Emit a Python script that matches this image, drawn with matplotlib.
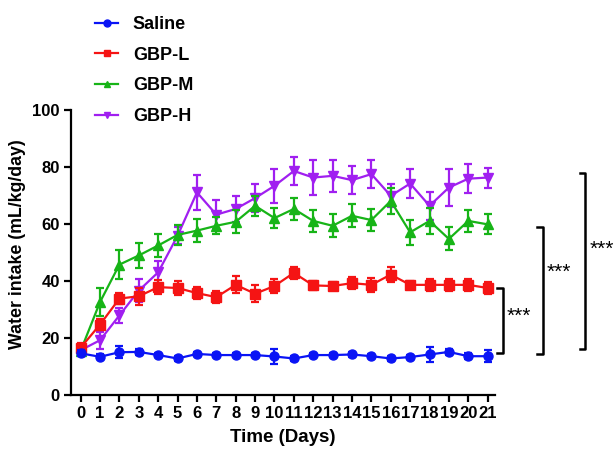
import matplotlib
matplotlib.use('Agg')
import matplotlib.pyplot as plt
from matplotlib.lines import Line2D

plt.rcParams['font.family'] = ['Liberation Sans', 'DejaVu Sans']
plt.rcParams['font.weight'] = 'bold'

days = list(range(22))

saline = [14.6, 13.4, 15.0, 15.1, 14.0, 12.8, 14.4, 14.0, 14.0, 14.0, 13.5,
          12.8, 14.0, 14.0, 14.2, 13.6, 12.8, 13.3, 14.2, 15.1, 13.6, 13.6]
saline_err = [1.0, 0.8, 2.0, 1.0, 0.8, 0.8, 0.8, 0.8, 0.8, 0.8, 2.5,
              0.8, 0.8, 0.8, 0.8, 0.8, 0.8, 0.8, 2.5, 1.0, 1.0, 2.0]

gbp_l = [16.6, 24.7, 33.8, 34.6, 37.8, 37.5, 35.7, 34.3, 38.6, 35.5, 38.2,
         42.8, 38.4, 38.2, 39.2, 38.6, 42.2, 38.6, 38.6, 38.6, 38.6, 37.5]
gbp_l_err = [1.5, 2.0, 2.0, 3.0, 2.5, 2.5, 2.0, 2.0, 3.0, 3.0, 2.5,
             2.0, 1.5, 1.5, 2.0, 2.5, 2.5, 1.5, 2.0, 2.0, 2.0, 2.0]

gbp_m = [15.5, 32.6, 45.7, 48.9, 52.4, 56.1, 57.6, 59.3, 60.7, 66.3, 62.0,
         65.2, 61.0, 59.3, 62.8, 61.3, 68.0, 57.0, 61.0, 54.7, 61.0, 59.8]
gbp_m_err = [1.0, 5.0, 5.0, 4.5, 4.0, 3.5, 4.0, 3.0, 4.0, 3.5, 3.5,
             4.0, 4.0, 4.0, 4.0, 4.0, 4.5, 4.5, 4.5, 4.0, 4.0, 3.5]

gbp_h = [15.7, 19.2, 27.9, 36.6, 43.0, 55.8, 71.0, 63.2, 65.2, 69.0, 73.3,
         78.5, 76.2, 76.8, 75.3, 77.4, 69.8, 74.1, 66.3, 72.7, 75.8, 76.2]
gbp_h_err = [1.0, 3.0, 2.5, 4.0, 4.0, 3.0, 6.0, 5.0, 4.5, 5.0, 6.0,
             5.0, 6.0, 5.5, 5.0, 5.0, 4.0, 5.0, 5.0, 6.5, 5.0, 3.5]

groups = [
    ('Saline', saline, saline_err, '#0a14f5', 'o'),
    ('GBP-L', gbp_l, gbp_l_err, '#f51414', 's'),
    ('GBP-M', gbp_m, gbp_m_err, '#17b417', '^'),
    ('GBP-H', gbp_h, gbp_h_err, '#a01ff0', 'v'),
]

# significance brackets: (bottom, top, x position, label height)
brackets = [(14.6, 37.5, 21.77, 27.5), (14.5, 58.8, 23.83, 43.0),
            (16.0, 77.8, 26.04, 51.2)]

fig = plt.figure(figsize=(6.14, 4.53), dpi=100)
ax = fig.add_axes([0.1156, 0.128, 0.690, 0.630])

handles = []
for i, (name, vals, errs, color, marker) in enumerate(groups):
    ax.errorbar(days, vals, yerr=errs, color=color, marker=marker,
                markersize=6.5, linewidth=1.6, elinewidth=1.6,
                capsize=3.2, capthick=1.6, zorder=10 - i, clip_on=False)
    handles.append(Line2D([], [], color=color, marker=marker, markersize=5,
                          linewidth=1.6, label=name))

for bottom, top, x, ylab in brackets:
    ax.plot([x - 0.28, x, x, x - 0.28], [top, top, bottom, bottom],
            color='black', linewidth=1.8, clip_on=False)
    ax.text(x + 0.2, ylab, '***', fontsize=15, fontweight='normal',
            ha='left', va='center', clip_on=False)

ax.set_xlim(-0.5, 21.36)
ax.set_ylim(0, 100)
ax.set_xticks(days)
ax.set_yticks([0, 20, 40, 60, 80, 100])
ax.spines['top'].set_visible(False)
ax.spines['right'].set_visible(False)
ax.spines['left'].set_linewidth(1.6)
ax.spines['bottom'].set_linewidth(1.6)
ax.tick_params(axis='both', width=1.6, length=5, labelsize=12, pad=3)
for lab in ax.get_xticklabels() + ax.get_yticklabels():
    lab.set_fontweight('bold')

ax.set_xlabel('Time (Days)', fontsize=13.5, fontweight='bold', labelpad=6)
ax.set_ylabel('Water intake (mL/kg/day)', fontsize=12.8, fontweight='bold')
ax.yaxis.set_label_coords(-0.105, 0.53)

fig.legend(handles=handles, loc='upper left', bbox_to_anchor=(0.128, 1.0),
           frameon=False, fontsize=13, handlelength=1.3,
           handletextpad=0.8, labelspacing=0.75)

plt.savefig('out.png', dpi=100)
